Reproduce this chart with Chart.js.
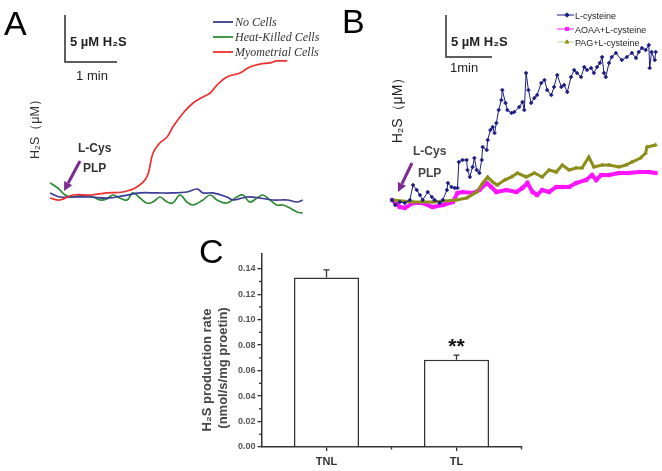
<!DOCTYPE html>
<html><head><meta charset="utf-8">
<script src="https://cdn.jsdelivr.net/npm/chart.js@4.4.0/dist/chart.umd.min.js"></script>
<style>
html,body{margin:0;padding:0;background:#fff;}
#wrap{position:relative;width:662px;height:471px;overflow:hidden;background:#fff;}
.pane{position:absolute;}
canvas{display:block;}
</style></head><body>
<div id="wrap">
<div class="pane" style="left:0;top:0;"><canvas id="cA" width="330" height="230"></canvas></div>
<div class="pane" style="left:330px;top:0;"><canvas id="cB" width="332" height="230"></canvas></div>
<div class="pane" style="left:190px;top:230px;"><canvas id="cC" width="340" height="241"></canvas></div>
</div>
<script>
// ---------- Panel A data (time in min, H2S in µM) ----------
const aSeriesNames = ['No Cells', 'Heat-Killed Cells', 'Myometrial Cells'];
const aTimeNoCells = [0.04,0.23,0.48,0.81,1.13,1.44,1.77,2.10,2.40,2.67,2.87,2.98,3.17,3.44,3.56,3.83,4.08,4.33,4.60,4.79,4.90];
const aNoCells = [0.43,0,0,0,-0.11,0.11,0.43,0.43,0.43,0.53,0.85,0.43,0.43,0,-0.32,0,-0.11,-0.32,-0.32,-0.53,-0.32];
const aTimeHeatKilled = [0.04,0.19,0.33,0.48,0.67,0.87,1.00,1.13,1.25,1.38,1.52,1.63,1.77,1.90,2.02,2.15,2.29,2.40,2.54,2.67,2.79,2.98,3.12,3.25,3.44,3.63,3.75,3.88,4.02,4.13,4.27,4.40,4.52,4.65,4.79,4.90,4.98];
const aHeatKilled = [1.49,0.96,0.21,0,0.21,0,-0.32,-0.21,0.21,-0.11,-0.32,0.43,-0.11,-0.64,-0.53,0,-0.53,-0.64,0.21,-0.53,-0.85,-0.32,0.21,-0.32,-0.64,0,0.21,-0.53,-0.11,0.21,-0.32,-0.85,-0.85,-1.17,-1.60,-1.70,-1.60];
const aTimeMyometrial = [0.04,0.23,0.48,0.81,1.13,1.44,1.71,1.90,2.02,2.15,2.29,2.40,2.60,2.79,2.98,3.12,3.25,3.44,3.69,3.88,4.08,4.27,4.40,4.60];
const aMyometrial = [-0.11,-0.32,0.21,0.21,0.43,0.53,1.06,2.13,4.68,5.74,6.38,7.45,8.94,10.0,10.64,11.06,11.91,12.77,13.19,13.83,14.15,14.26,14.47,14.47];

// ---------- Panel B data (time in min, H2S in µM) ----------
const bSeriesNames = ['L-cysteine', 'AOAA+L-cysteine', 'PAG+L-cysteine'];
const bTimeLCys = [0,0.07,0.17,0.28,0.39,0.46,0.54,0.61,0.67,0.78,0.87,0.93,1.04,1.11,1.20,1.22,1.30,1.37,1.43,1.46,1.54,1.63,1.65,1.70,1.76,1.80,1.85,1.91,1.96,1.98,2.07,2.09,2.15,2.20,2.24,2.28,2.33,2.39,2.41,2.48,2.52,2.61,2.67,2.78,2.85,2.89,2.93,2.98,3.04,3.11,3.17,3.26,3.33,3.39,3.48,3.54,3.61,3.70,3.76,3.83,3.91,3.98,4.04,4.13,4.20,4.26,4.35,4.41,4.48,4.54,4.59,4.63,4.67,4.74,4.80,4.89,5.02,5.13,5.24,5.33,5.39,5.46,5.54,5.61,5.63,5.67,5.74,5.76];
const bLCys = [0.24,-0.36,0,-0.12,0.24,2.02,1.43,0.83,0.24,1.19,0.60,0.24,-0.12,0.24,1.43,2.26,1.79,1.67,1.67,4.76,5.0,5.0,3.81,2.98,4.17,5.24,3.81,3.45,5.0,6.55,6.19,7.38,8.57,8.93,8.21,9.40,10.95,12.14,13.33,11.79,10.95,10.60,10.71,11.31,11.90,10.95,15.36,13.33,11.79,12.38,12.74,14.17,14.52,13.33,12.74,13.69,15.12,13.69,13.93,13.10,14.88,15.71,15.36,14.88,16.07,15.71,15.95,15.36,16.07,16.55,17.26,15.36,14.88,16.55,17.26,17.74,16.90,17.26,17.74,17.14,17.86,18.33,18.10,18.69,15.95,17.86,16.90,17.86];
const bTimeAOAA = [0,0.17,0.28,0.46,0.67,0.89,1.11,1.33,1.43,1.54,1.76,1.91,2.07,2.17,2.28,2.50,2.72,2.85,2.96,3.07,3.17,3.28,3.43,3.59,3.72,3.87,4.02,4.24,4.37,4.46,4.57,4.74,4.96,5.17,5.39,5.61,5.76];
const bAOAA = [0.24,-0.60,-0.71,-0.12,-0.12,-0.60,-0.36,0,1.07,1.19,1.07,1.43,2.26,1.79,1.19,1.43,1.19,1.67,2.26,1.19,0.83,1.43,1.19,1.79,1.79,1.79,2.26,2.62,3.21,2.62,3.21,3.21,3.45,3.45,3.57,3.57,3.45];
const bTimePAG = [0,0.46,0.89,1.41,1.63,1.85,1.98,2.09,2.20,2.30,2.46,2.61,2.74,2.93,3.11,3.28,3.43,3.59,3.72,3.87,4.02,4.15,4.30,4.41,4.59,4.74,4.96,5.11,5.24,5.43,5.54,5.57,5.76];
const bPAG = [0.24,0,0,0.24,0.48,1.19,2.26,2.98,2.38,2.02,2.62,2.98,3.45,2.98,3.45,2.98,3.81,3.57,4.40,3.81,4.05,4.05,5.36,4.17,4.40,4.40,4.17,4.40,4.76,5.24,5.83,6.55,6.79];

// ---------- Panel C data ----------
const cGroups = ['TNL', 'TL'];
const cRates = [0.133, 0.0686];
const cErrors = [0.006, 0.0035];
const cYTicks = [0.00, 0.02, 0.04, 0.06, 0.08, 0.10, 0.12, 0.14];
const cYMinorTicks = [0.01, 0.03, 0.05, 0.07, 0.09, 0.11, 0.13];

const SANS = "'Liberation Sans', Arial, sans-serif";
const SERIF = "'Liberation Serif', 'Times New Roman', serif";
Chart.defaults.font.family = SANS;

function pts(xs, ys) { return xs.map((x, i) => ({ x: x, y: ys[i] })); }

function arrow(ctx, x1, y1, x2, y2, color, w, head) {
  const a = Math.atan2(y2 - y1, x2 - x1);
  const bx = x2 - head * Math.cos(a), by = y2 - head * Math.sin(a);
  ctx.save();
  ctx.strokeStyle = color; ctx.lineWidth = w; ctx.lineCap = 'butt';
  ctx.beginPath(); ctx.moveTo(x1, y1); ctx.lineTo(bx, by); ctx.stroke();
  ctx.fillStyle = color; ctx.beginPath();
  ctx.moveTo(x2, y2);
  ctx.lineTo(bx + head * 0.5 * Math.sin(a), by - head * 0.5 * Math.cos(a));
  ctx.lineTo(bx - head * 0.5 * Math.sin(a), by + head * 0.5 * Math.cos(a));
  ctx.closePath(); ctx.fill();
  ctx.restore();
}

function scaleBar(ctx, x, yTop, yBottom, xRight) {
  ctx.save();
  ctx.strokeStyle = '#2a2a2a'; ctx.lineWidth = 1.5;
  ctx.beginPath(); ctx.moveTo(x, yTop); ctx.lineTo(x, yBottom); ctx.lineTo(xRight, yBottom); ctx.stroke();
  ctx.restore();
}

function text(ctx, s, x, y, font, color, align) {
  ctx.save();
  ctx.font = font; ctx.fillStyle = color || '#222';
  ctx.textAlign = align || 'left'; ctx.textBaseline = 'alphabetic';
  ctx.fillText(s, x, y);
  ctx.restore();
}

function vtext(ctx, s, cx, cy, font, color) {
  ctx.save();
  ctx.translate(cx, cy); ctx.rotate(-Math.PI / 2);
  ctx.font = font; ctx.fillStyle = color || '#222';
  ctx.textAlign = 'center'; ctx.textBaseline = 'middle';
  ctx.fillText(s, 0, 0);
  ctx.restore();
}

// ---------- Panel A ----------
const aColors = ['#3b3b98', '#2e8a35', '#ec3030'];
const annotA = {
  id: 'annotA',
  afterDraw(chart) {
    const ctx = chart.ctx;
    text(ctx, 'A', 4, 35, '34px ' + SANS, '#000');
    scaleBar(ctx, 65, 15, 62, 117);
    text(ctx, '5 µM H₂S', 70, 46, 'bold 13px ' + SANS, '#222');
    text(ctx, '1 min', 92, 80, '13px ' + SANS, '#222', 'center');
    vtext(ctx, 'H₂S（μM）', 36, 126, '12.5px ' + SANS, '#333');
    text(ctx, 'L-Cys', 78, 152, 'bold 12px ' + SANS, '#333');
    text(ctx, 'PLP', 83, 172, 'bold 12px ' + SANS, '#333');
    arrow(ctx, 80, 161, 64, 191, '#7a2a90', 3, 9);
    // legend
    const ys = [22, 37, 52];
    aSeriesNames.forEach((n, i) => {
      ctx.save();
      ctx.strokeStyle = aColors[i]; ctx.lineWidth = 1.8;
      ctx.beginPath(); ctx.moveTo(213, ys[i]); ctx.lineTo(233, ys[i]); ctx.stroke();
      ctx.restore();
      text(ctx, n, 235, ys[i] + 4, 'italic 12px ' + SERIF, '#333');
    });
  }
};

new Chart(document.getElementById('cA'), {
  type: 'line',
  data: {
    datasets: [
      { label: aSeriesNames[2], data: pts(aTimeMyometrial, aMyometrial), borderColor: aColors[2], borderWidth: 1.7, pointRadius: 0, tension: 0.4, fill: false, clip: false },
      { label: aSeriesNames[0], data: pts(aTimeNoCells, aNoCells), borderColor: aColors[0], borderWidth: 1.7, pointRadius: 0, tension: 0.4, fill: false, clip: false },
      { label: aSeriesNames[1], data: pts(aTimeHeatKilled, aHeatKilled), borderColor: aColors[1], borderWidth: 1.7, pointRadius: 0, tension: 0.4, fill: false, clip: false }
    ]
  },
  options: {
    responsive: false, animation: false, events: [],
    layout: { padding: { left: 48, right: 27.2, top: 40, bottom: 9.5 } },
    scales: {
      x: { type: 'linear', min: 0, max: 4.9, display: false },
      y: { type: 'linear', min: -2.5, max: 16.7, display: false }
    },
    plugins: { legend: { display: false }, tooltip: { enabled: false } }
  },
  plugins: [annotA]
});

// ---------- Panel B ----------
const bColors = ['#1b1b82', '#ff14ff', '#8d8d1c'];
const bStyles = ['rectRot', 'rect', 'triangle'];
const annotB = {
  id: 'annotB',
  afterDraw(chart) {
    const ctx = chart.ctx;
    text(ctx, 'B', 12, 33, '34px ' + SANS, '#000');
    scaleBar(ctx, 116, 15, 57, 162);
    text(ctx, '5 µM H₂S', 121, 46, 'bold 13px ' + SANS, '#222');
    text(ctx, '1min', 120, 72, '13px ' + SANS, '#222');
    vtext(ctx, 'H₂S（μM）', 68, 107, '14px ' + SANS, '#222');
    text(ctx, 'L-Cys', 83, 155, 'bold 12px ' + SANS, '#444');
    text(ctx, 'PLP', 88, 177, 'bold 12px ' + SANS, '#444');
    arrow(ctx, 82, 163, 68, 192, '#7a2a90', 3, 9);
    const ys = [15, 29, 42];
    bSeriesNames.forEach((n, i) => {
      ctx.save();
      ctx.strokeStyle = i === 2 ? '#c8c89a' : bColors[i]; ctx.lineWidth = 1;
      ctx.beginPath(); ctx.moveTo(227, ys[i]); ctx.lineTo(244, ys[i]); ctx.stroke();
      ctx.fillStyle = bColors[i]; ctx.strokeStyle = bColors[i];
      Chart.helpers.drawPoint(ctx, { pointStyle: bStyles[i], radius: 2.2, rotation: 0, borderWidth: 1 }, 237, ys[i]);
      ctx.restore();
      text(ctx, n, 245, ys[i] + 3.5, '9px ' + SANS, '#222');
    });
  }
};

new Chart(document.getElementById('cB'), {
  type: 'line',
  data: {
    datasets: [
      { label: bSeriesNames[0], data: pts(bTimeLCys, bLCys), borderColor: bColors[0], backgroundColor: bColors[0], borderWidth: 1, pointStyle: bStyles[0], pointRadius: 2, pointBorderWidth: 0.5, tension: 0, fill: false, clip: false },
      { label: bSeriesNames[2], data: pts(bTimePAG, bPAG), borderColor: bColors[2], backgroundColor: bColors[2], borderWidth: 3, pointStyle: bStyles[2], pointRadius: 2.2, pointBorderWidth: 0.5, tension: 0, fill: false, clip: false },
      { label: bSeriesNames[1], data: pts(bTimeAOAA, bAOAA), borderColor: bColors[1], backgroundColor: bColors[1], borderWidth: 4, pointStyle: bStyles[1], pointRadius: 2.5, pointBorderWidth: 0.5, tension: 0, fill: false, clip: false }
    ]
  },
  options: {
    responsive: false, animation: false, events: [],
    layout: { padding: { left: 62, right: 3.2, top: 30, bottom: 8 } },
    scales: {
      x: { type: 'linear', min: 0, max: 5.8, display: false },
      y: { type: 'linear', min: -2.38, max: 20.48, display: false }
    },
    plugins: { legend: { display: false }, tooltip: { enabled: false } }
  },
  plugins: [annotB]
});

// ---------- Panel C ----------
const annotC = {
  id: 'annotC',
  afterDraw(chart) {
    const ctx = chart.ctx;
    const xs = chart.scales.x, ys = chart.scales.y;
    const meta = chart.getDatasetMeta(0);
    ctx.save();
    ctx.strokeStyle = '#333'; ctx.lineWidth = 1.3;
    meta.data.forEach((bar, i) => {
      const yTop = ys.getPixelForValue(cRates[i] + cErrors[i]);
      ctx.beginPath(); ctx.moveTo(bar.x, bar.y); ctx.lineTo(bar.x, yTop);
      ctx.moveTo(bar.x - 3, yTop); ctx.lineTo(bar.x + 3, yTop); ctx.stroke();
    });
    cYMinorTicks.forEach(v => {
      const y = ys.getPixelForValue(v);
      ctx.beginPath(); ctx.moveTo(xs.left - 2.5, y); ctx.lineTo(xs.left, y); ctx.stroke();
    });
    const step = (xs.right - xs.left) / cGroups.length;
    for (let k = 1; k <= cGroups.length; k++) {
      const x = xs.left + k * step;
      ctx.beginPath(); ctx.moveTo(x, ys.bottom); ctx.lineTo(x, ys.bottom + 2.5); ctx.stroke();
    }
    ctx.restore();
    const tl = meta.data[1];
    text(ctx, '**', tl.x, ys.getPixelForValue(cRates[1] + cErrors[1]) - 2, 'bold 21px ' + SANS, '#111', 'center');
    text(ctx, 'C', 9, 33, '34px ' + SANS, '#000');
    vtext(ctx, 'H₂S production rate', 17, 140, 'bold 13px ' + SANS, '#444');
    vtext(ctx, '(nmol/s/mg proetin)', 33, 138, 'bold 13px ' + SANS, '#444');
  }
};

new Chart(document.getElementById('cC'), {
  type: 'bar',
  data: {
    labels: cGroups,
    datasets: [{ data: cRates, backgroundColor: '#ffffff', borderColor: '#333', borderWidth: 1.5, borderSkipped: 'bottom', barPercentage: 0.5, categoryPercentage: 1.0 }]
  },
  options: {
    responsive: false, animation: false, events: [],
    layout: { padding: { left: 0, right: 8.5, top: 23.4, bottom: 0 } },
    scales: {
      x: {
        grid: { display: true, drawOnChartArea: false, drawTicks: true, tickLength: 4, color: '#333', lineWidth: 1.3, offset: false },
        border: { display: true, color: '#333', width: 1.5 },
        ticks: { font: { family: SANS, size: 11, weight: 'bold' }, color: '#333', padding: 4 },
        afterFit(s) { s.height = 24; }
      },
      y: {
        min: 0, max: 0.152,
        grid: { display: true, drawOnChartArea: false, drawTicks: true, tickLength: 4, color: '#333', lineWidth: 1.3 },
        border: { display: true, color: '#333', width: 1.5 },
        ticks: { font: { family: SANS, size: 9, weight: 'bold' }, color: '#555', padding: 2, callback: v => v.toFixed(2) },
        afterBuildTicks(s) { s.ticks = cYTicks.map(v => ({ value: v })); },
        afterFit(s) { s.width = 71.5; }
      }
    },
    plugins: { legend: { display: false }, tooltip: { enabled: false } }
  },
  plugins: [annotC]
});
</script>
</body></html>
